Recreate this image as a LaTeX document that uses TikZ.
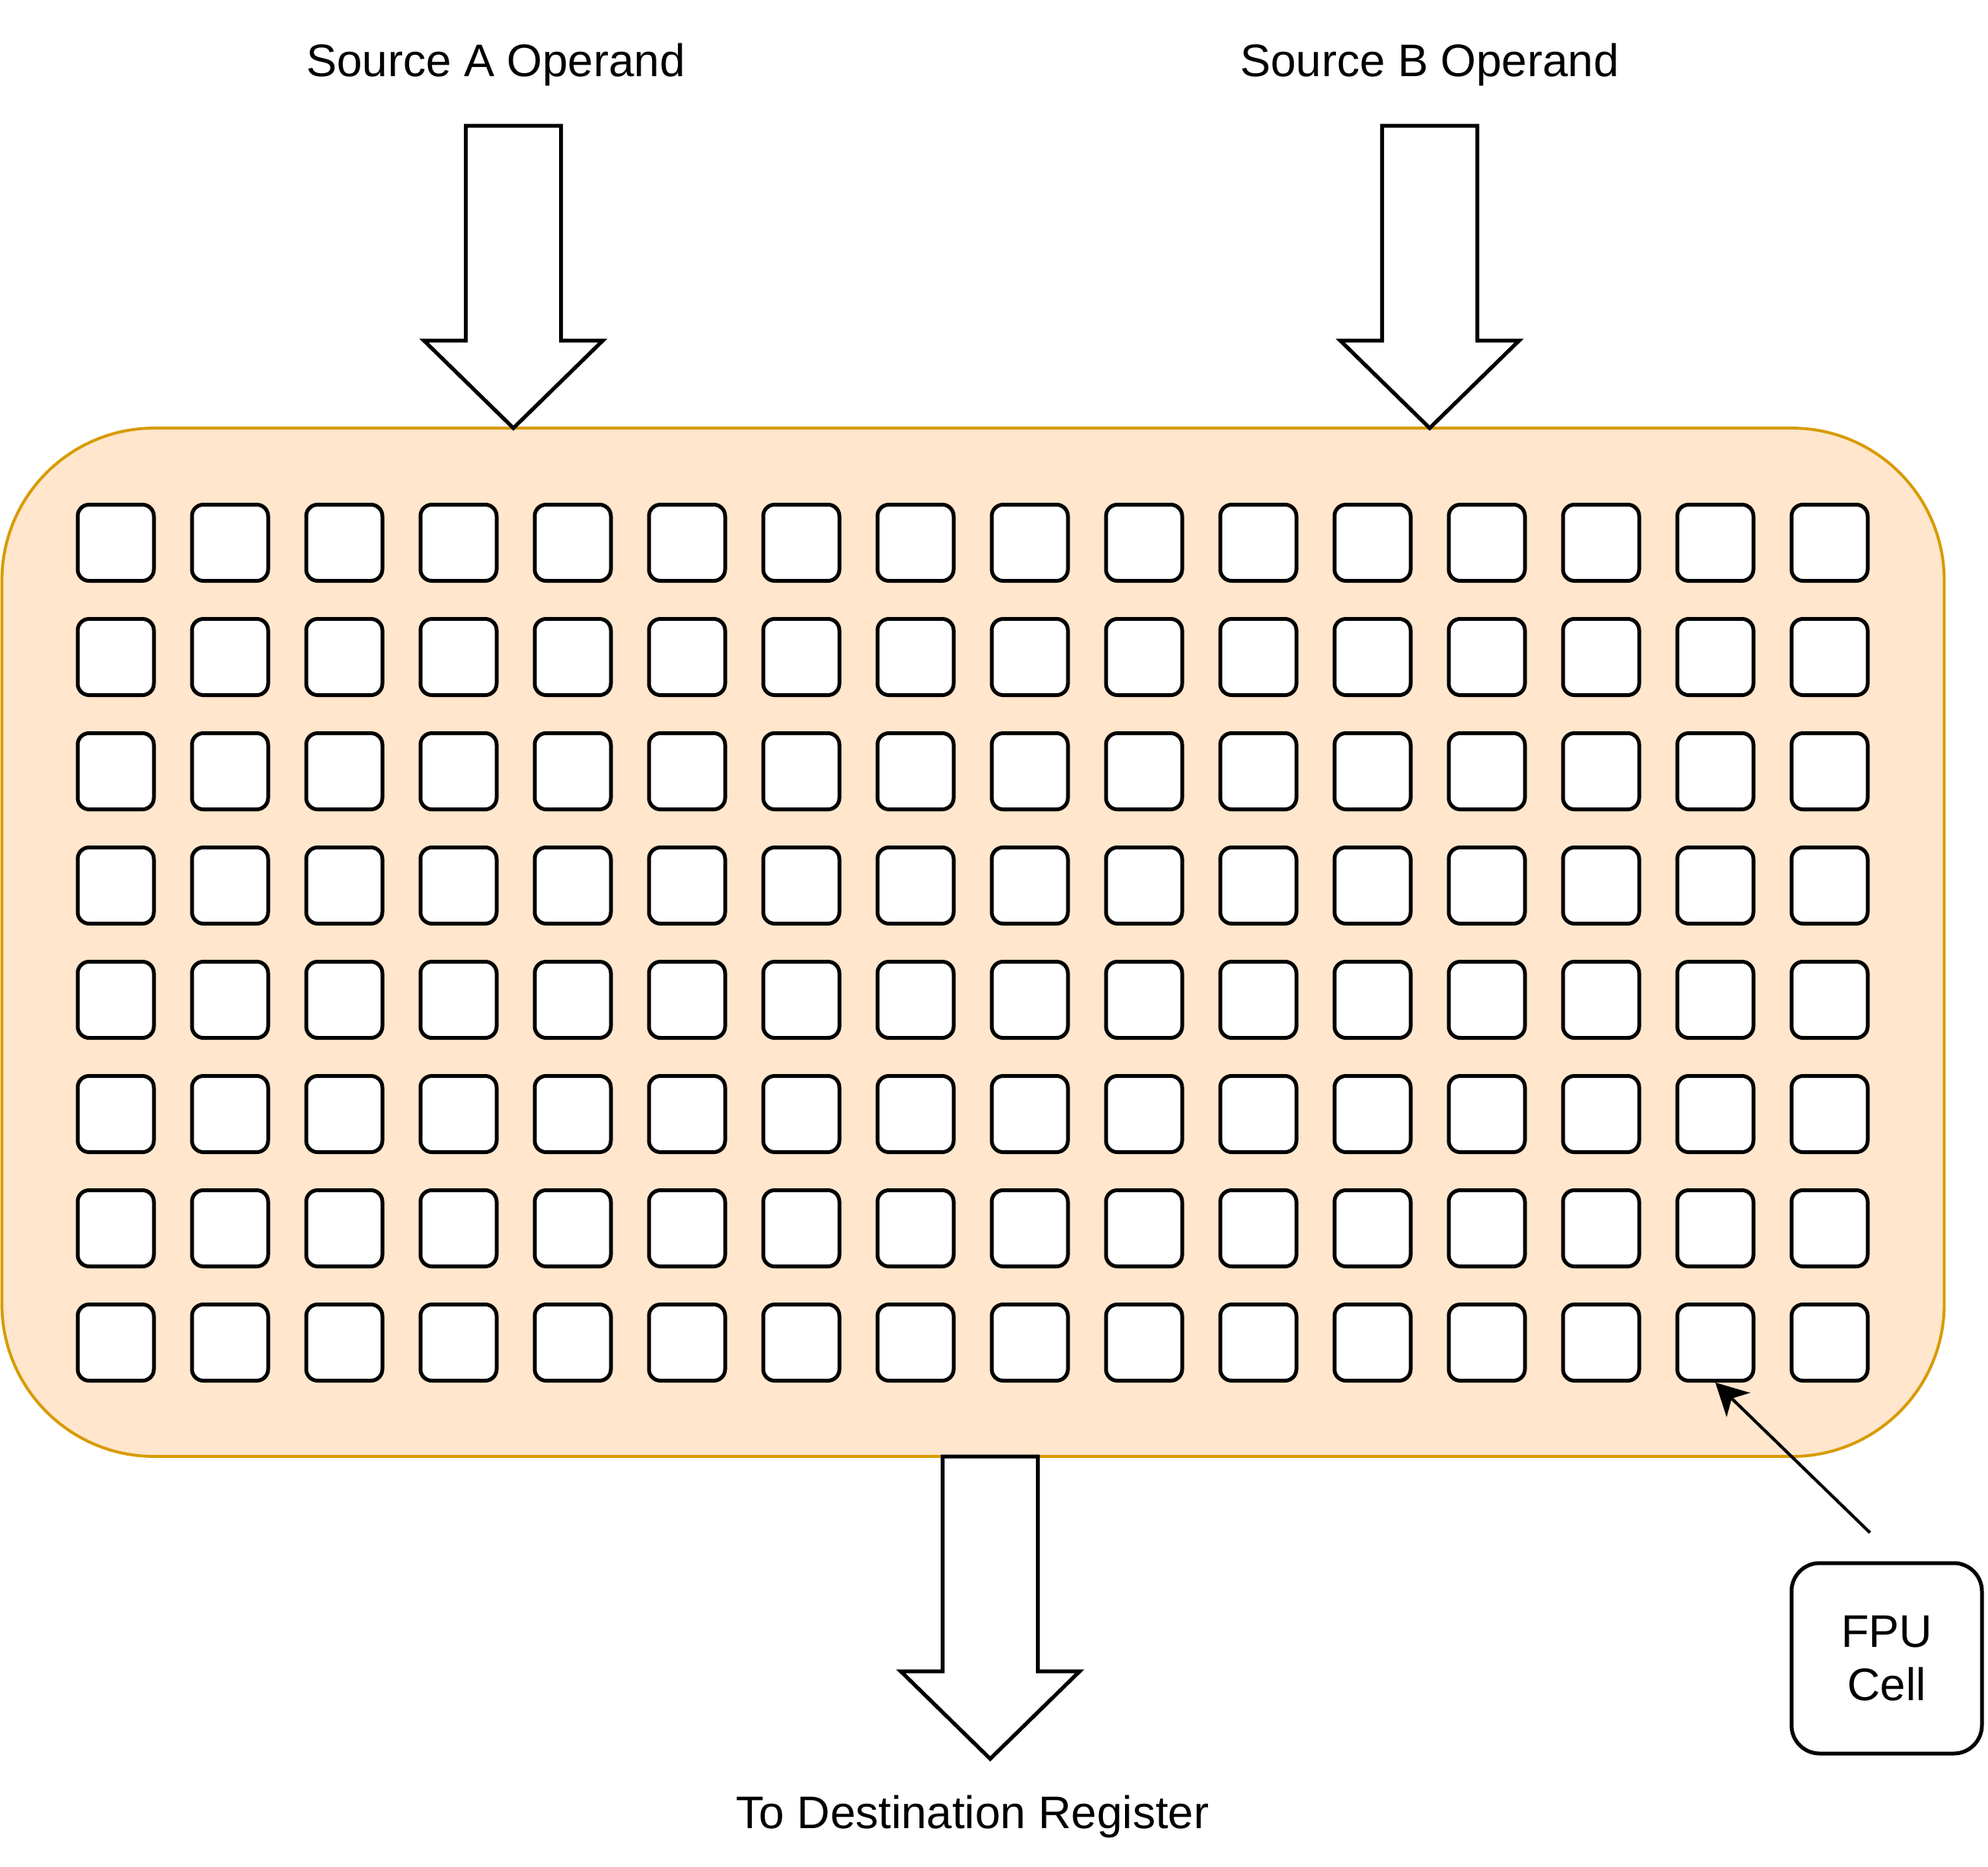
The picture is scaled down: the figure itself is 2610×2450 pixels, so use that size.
\documentclass[tikz,border=0pt]{standalone}
\usepackage{fontspec}
\setmainfont{Liberation Sans}
\usetikzlibrary{arrows.meta}
\definecolor{boxfill}{HTML}{FFE6CC}
\definecolor{boxline}{HTML}{D79B00}
\begin{document}
\begin{tikzpicture}[x=1pt,y=-1pt,
  container/.style={draw=boxline,fill=boxfill,line width=3.8pt,rounded corners=200pt,
    minimum width=2550pt,minimum height=1350pt,inner sep=0pt},
  cellbox/.style={draw=black,fill=white,line width=5pt,rounded corners=15pt,
    minimum size=100pt,inner sep=0pt},
  fatline/.style={draw=black,fill=white,line width=5pt,line join=miter},
  fatarrow/.pic={\path[fatline] (0,0) -- (117.5,-115) -- (62.5,-115) -- (62.5,-397)
      -- (-62.5,-397) -- (-62.5,-115) -- (-117.5,-115) -- cycle;},
  lbl/.style={font=\fontsize{60}{72}\selectfont,inner sep=0pt,anchor=base},
  fpubox/.style={draw=black,fill=white,line width=5pt,rounded corners=37pt,
    minimum size=250pt,inner sep=0pt,align=center,font=\fontsize{60}{70}\selectfont},
  pointer/.style={draw=black,line width=4pt,-{Stealth[length=42pt,width=44pt,inset=12pt]}}
]
\useasboundingbox (0,0) rectangle (2610,2450);
\node[container] (pu) at (1277.5,1237) {};
\foreach \r in {1,...,8}{
  \foreach \c in {1,...,16}{
    \node[cellbox] (c-\r-\c) at ({152+(\c-1)*150},{712.5+(\r-1)*150}) {};
  }
}
\coordinate (tipA) at (674,562);
\coordinate (tipB) at (1877,562);
\coordinate (tipD) at (1300,2309);
\pic at (tipA) {fatarrow};
\pic at (tipB) {fatarrow};
\pic at (tipD) {fatarrow};
\node[lbl] (la) at (651,100) {Source A Operand};
\node[lbl] (lb) at (1877,100) {Source B Operand};
\node[lbl] (ld) at (1277,2400) {To Destination Register};
\node[fpubox] (fpu) at (2477,2177) {FPU\\Cell};
\coordinate (pstart) at (2455,2012);
\draw[pointer] (pstart) -- (c-8-15.south);
\end{tikzpicture}
\end{document}
